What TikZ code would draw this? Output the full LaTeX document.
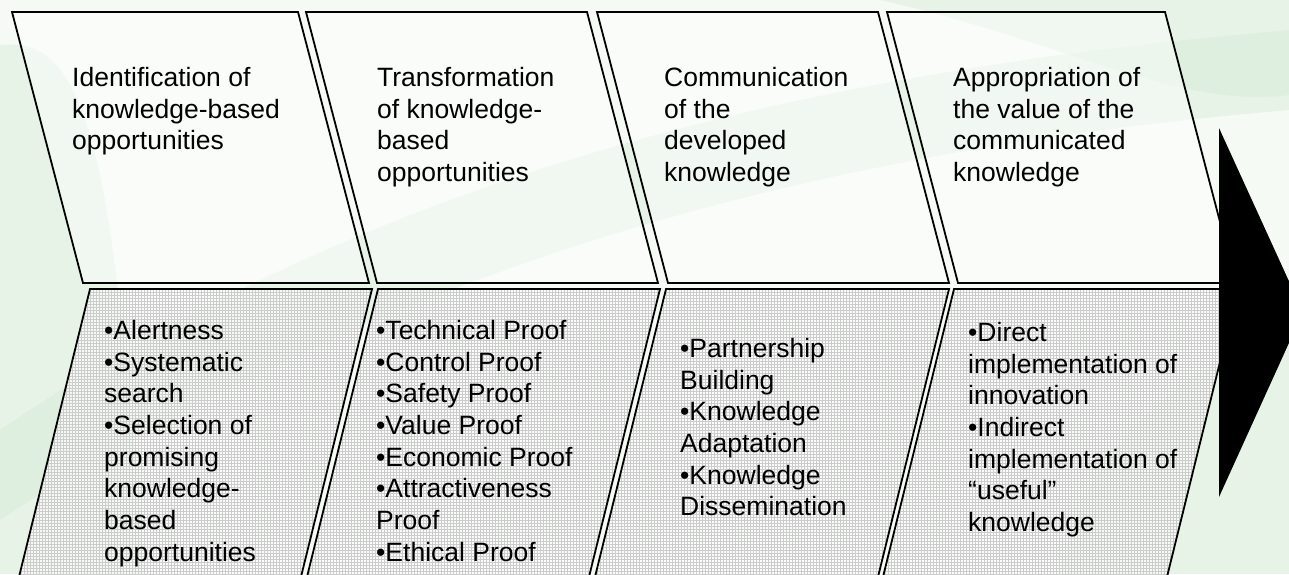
\documentclass[tikz,border=0pt]{standalone}
\usepackage{fontspec}
\setmainfont{Liberation Sans}
\usetikzlibrary{patterns}

\definecolor{paper}{RGB}{245,250,245}
\definecolor{leaf}{RGB}{212,234,212}

\tikzset{
  stagebox/.style={draw, line width=1.8pt, fill=white, fill opacity=.45},
  itembox/.style={draw, line width=1.8pt, preaction={fill=white, fill opacity=.6},
    pattern=grid, pattern color=black!20},
  stagetext/.style={anchor=north west, inner sep=0pt, align=left,
    font=\fontsize{26.5}{31.7}\selectfont},
  swoosh/.style={fill=leaf, opacity=.4}
}

\begin{document}
\begin{tikzpicture}[x=1pt, y=-1pt]

    \useasboundingbox (0,0) rectangle (1289,574);
    \clip (0,0) rectangle (1289,574);

    % pale background with some leaf bands
    \fill[paper] (0,0) rectangle (1289,574);
    \fill[swoosh] (0,45) .. controls (50,40) and (80,70) .. (105,200)
      .. controls (125,320) and (135,450) .. (145,574) -- (0,574) -- cycle;
    \fill[swoosh] (0,430) .. controls (380,170) and (820,70) .. (1289,30)
      -- (1289,110) .. controls (820,150) and (400,260) .. (0,520) -- cycle;
    \fill[swoosh] (880,0) .. controls (1060,40) and (1180,110) .. (1289,95)
      -- (1289,0) -- cycle;
    \fill[swoosh] (1289,330) .. controls (1150,380) and (1080,470) .. (1060,574)
      -- (1289,574) -- cycle;

    % upper row, leaning right
    \foreach \x/\w in {12/286, 306/281, 597/281, 887/278} {
      \draw[stagebox] (\x,12) -- ++(\w,0) -- ++(71,271) -- ++(-\w,0) -- cycle;
    }

    % lower row, leaning back
    \foreach \x/\w in {90/282, 378/282, 666/283, 954/284} {
      \draw[itembox] (\x,289) -- ++(\w,0) -- ++(-74,300) -- ++(-\w,0) -- cycle;
    }

    \node[stagetext] (title1) at (72,67) {Identification of\\knowledge-based\\opportunities};
    \node[stagetext] (title2) at (377,67) {Transformation\\of knowledge-\\based\\opportunities};
    \node[stagetext] (title3) at (664,67) {Communication\\of the\\developed\\knowledge};
    \node[stagetext] (title4) at (953,67) {Appropriation of\\the value of the\\communicated\\knowledge};

    \node[stagetext] (items1) at (104,320) {•Alertness\\•Systematic\\search\\•Selection of\\promising\\knowledge-\\based\\opportunities};
    \node[stagetext] (items2) at (376,320) {•Technical Proof\\•Control Proof\\•Safety Proof\\•Value Proof\\•Economic Proof\\•Attractiveness\\Proof\\•Ethical Proof};
    \node[stagetext] (items3) at (680,338) {•Partnership\\Building\\•Knowledge\\Adaptation\\•Knowledge\\Dissemination};
    \node[stagetext] (items4) at (968,322) {•Direct\\implementation of\\innovation\\•Indirect\\implementation of\\“useful”\\knowledge};

    % arrow head
    \fill (1219,128) -- (1219,497) -- (1303,312) -- cycle;

  \end{tikzpicture}
\end{document}
